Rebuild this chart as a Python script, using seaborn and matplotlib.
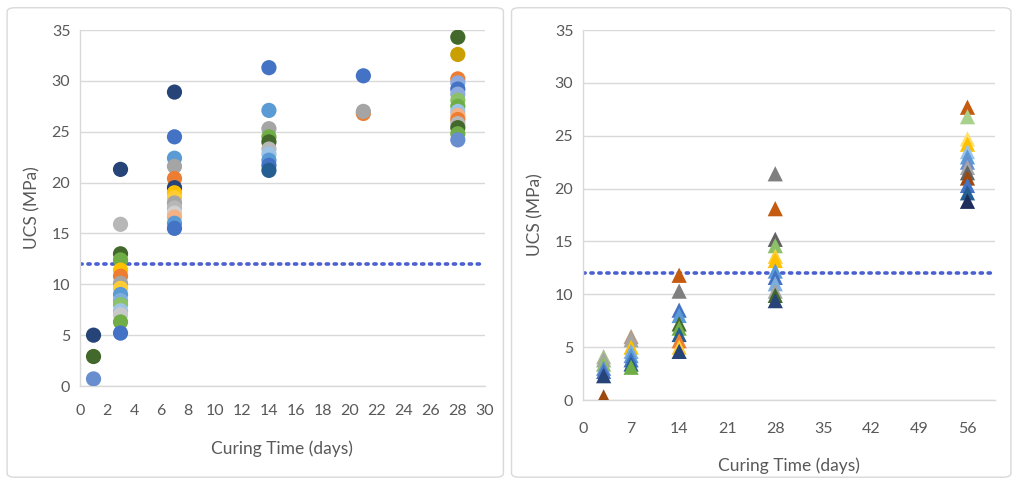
import matplotlib
matplotlib.use("Agg")
import matplotlib.pyplot as plt
from matplotlib.patches import FancyBboxPatch
import seaborn as sns
import pandas as pd

sns.set_theme(style="white")
plt.rcParams["font.family"] = ["Lato", "DejaVu Sans"]

# ---- Left panel: UCS (circles) ----
left_days = [1, 1, 1,
             3, 3, 3, 3, 3, 3, 3, 3, 3, 3, 3, 3, 3, 3, 3,
             7, 7, 7, 7, 7, 7, 7, 7, 7, 7, 7, 7, 7, 7,
             14, 14, 14, 14, 14, 14, 14, 14, 14, 14,
             21, 21, 21,
             28, 28, 28, 28, 28, 28, 28, 28, 28, 28, 28, 28, 28, 28, 28]
left_ucs = [5.0, 2.9, 0.7,
            21.3, 15.9, 13.0, 12.4, 11.4, 10.8, 10.1, 9.6, 9.0, 8.4, 8.0, 7.4, 7.0, 6.3, 5.2,
            28.9, 24.5, 22.4, 21.6, 20.4, 19.5, 19.0, 18.5, 18.0, 17.5, 17.0, 16.6, 16.0, 15.5,
            31.3, 27.1, 25.3, 24.5, 24.0, 23.3, 22.8, 22.2, 21.7, 21.2,
            30.5, 26.8, 27.0,
            34.3, 32.6, 30.2, 29.8, 29.2, 28.7, 28.1, 27.5, 27.0, 26.6, 26.2, 25.8, 25.4, 24.8, 24.2]
left_colors = ["#264478", "#43682B", "#698ED0",
               "#264478", "#B7B7B7", "#43682B", "#70AD47", "#FFC000", "#ED7D31", "#A5A5A5",
               "#FFCD33", "#5B9BD5", "#7CAFDD", "#8CC168", "#9DC3E6", "#C9C9C9", "#70AD47", "#4472C4",
               "#264478", "#4472C4", "#5B9BD5", "#A5A5A5", "#ED7D31", "#264478", "#FFC000",
               "#FFCD33", "#A5A5A5", "#B7B7B7", "#D0D0D0", "#F4B183", "#5B9BD5", "#4472C4",
               "#4472C4", "#5B9BD5", "#A5A5A5", "#70AD47", "#43682B", "#B7B7B7", "#9DC3E6",
               "#5B9BD5", "#4472C4", "#255E91",
               "#4472C4", "#ED7D31", "#A5A5A5",
               "#43682B", "#C9A000", "#ED7D31", "#8FAADC", "#4472C4", "#8FAADC", "#8CC168",
               "#70AD47", "#9DC3E6", "#F4B183", "#ED7D31", "#B7B7B7", "#43682B", "#70AD47", "#698ED0"]

# ---- Right panel: UCS (triangles) ----
right_days = [3, 3, 3, 3, 3, 3, 3,
              7, 7, 7, 7, 7, 7, 7, 7,
              14, 14, 14, 14, 14, 14, 14, 14, 14, 14,
              28, 28, 28, 28, 28, 28, 28, 28, 28, 28, 28, 28,
              56, 56, 56, 56, 56, 56, 56, 56, 56, 56, 56, 56, 56]
right_ucs = [4.1, 3.8, 3.4, 3.0, 2.7, 2.3, 0.3,
             6.0, 5.7, 5.0, 4.6, 4.2, 3.8, 3.4, 3.1,
             11.8, 10.3, 8.5, 8.0, 7.2, 6.8, 6.2, 5.6, 5.0, 4.6,
             21.4, 18.1, 15.2, 14.6, 13.6, 13.2, 12.2, 11.6, 11.0, 10.3, 9.9, 9.4,
             27.7, 26.8, 24.7, 24.2, 23.5, 23.0, 22.5, 22.0, 21.5, 21.0, 20.3, 19.6, 18.8]
right_colors = ["#A9C08E", "#A5A5A5", "#8CC168", "#698ED0", "#4472C4", "#264478", "#9E480E",
                "#B59A80", "#A5A5A5", "#FFC000", "#7CAFDD", "#5B9BD5", "#4472C4", "#255E91", "#70AD47",
                "#C55A11", "#7F7F7F", "#4472C4", "#5B9BD5", "#43682B", "#70AD47", "#255E91",
                "#ED7D31", "#FFCD33", "#264478",
                "#7F7F7F", "#C55A11", "#636363", "#8CC168", "#FFCD33", "#FFC000", "#5B9BD5",
                "#4472C4", "#7CAFDD", "#A5A5A5", "#43682B", "#264478",
                "#C55A11", "#A9D18E", "#FFE066", "#FFC000", "#9DC3E6", "#5B9BD5", "#698ED0",
                "#A5A5A5", "#636363", "#9E480E", "#4472C4", "#255E91", "#1F2D5C"]

threshold = 12

left_df = pd.DataFrame({"day": left_days, "ucs": left_ucs, "color": left_colors})
right_df = pd.DataFrame({"day": right_days, "ucs": right_ucs, "color": right_colors})

text_color = "#595959"
grid_color = "#D9D9D9"
line_color = "#4A5FD0"

fig = plt.figure(figsize=(10.17, 4.83), dpi=100)

# panel frames, drawn underneath the axes
for x0, w in [(0.007, 0.488), (0.503, 0.491)]:
    frame = FancyBboxPatch((x0, 0.012), w, 0.972,
                           boxstyle="round,pad=0,rounding_size=0.008",
                           transform=fig.transFigure, facecolor="none",
                           edgecolor="#D9D9D9", linewidth=1.0, zorder=-5)
    fig.patches.append(frame)

ax1 = fig.add_axes([0.0787, 0.2008, 0.398, 0.737])
ax2 = fig.add_axes([0.5733, 0.1718, 0.405, 0.766])


def style_axis(ax, xticks, xlim, xpad):
    ax.set_facecolor("none")
    ax.set_xlim(*xlim)
    ax.set_ylim(0, 35)
    ax.set_xticks(xticks)
    ax.set_yticks(range(0, 36, 5))
    ax.yaxis.grid(True, color=grid_color, linewidth=1.0)
    ax.xaxis.grid(False)
    for side in ["top", "right"]:
        ax.spines[side].set_visible(False)
    for side in ["left", "bottom"]:
        ax.spines[side].set_visible(True)
        ax.spines[side].set_color(grid_color)
        ax.spines[side].set_linewidth(1.0)
    ax.tick_params(axis="both", length=0, labelsize=11.5, colors=text_color)
    ax.tick_params(axis="y", pad=7)
    ax.tick_params(axis="x", pad=xpad)
    ax.set_axisbelow(True)
    ax.axhline(threshold, color=line_color, linewidth=2.6,
               linestyle=(0, (0.6, 1.6)), dash_capstyle="round", zorder=1)


sns.scatterplot(data=left_df, x="day", y="ucs", hue="color",
                palette={c: c for c in left_df["color"].unique()},
                marker="o", s=120, edgecolor="none", legend=False, ax=ax1, zorder=3)
style_axis(ax1, range(0, 31, 2), (0, 30), xpad=13)
ax1.set_xlabel("Curing Time (days)", fontsize=12.5, color=text_color, labelpad=16)
ax1.set_ylabel("UCS (MPa)", fontsize=12.5, color=text_color, labelpad=8)

sns.scatterplot(data=right_df, x="day", y="ucs", hue="color",
                palette={c: c for c in right_df["color"].unique()},
                marker="^", s=120, edgecolor="none", legend=False, ax=ax2, zorder=3)
style_axis(ax2, range(0, 57, 7), (0, 60), xpad=16)
ax2.set_xlabel("Curing Time (days)", fontsize=12.5, color=text_color, labelpad=15)
ax2.set_ylabel("UCS (MPa)", fontsize=12.5, color=text_color, labelpad=8)

fig.savefig("out.png", dpi=100)
